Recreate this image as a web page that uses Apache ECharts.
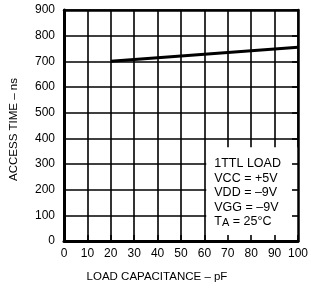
<!DOCTYPE html>
<html>
<head>
<meta charset="utf-8">
<script src="https://cdn.jsdelivr.net/npm/echarts@6/dist/echarts.min.js"></script>
<style>
  html, body { margin: 0; padding: 0; background: #fff; }
  #chart { width: 311px; height: 288px; }
</style>
</head>
<body>
<div id="chart"></div>
<script>
// load capacitance (pF) vs access time (ns)
const capacitance = [20, 100];
const accessTime = [700, 755];
const conditions = ['1TTL LOAD', 'VCC = +5V', 'VDD = \u20139V', 'VGG = \u20139V'];

const FONT = 'Liberation Sans, Arial, sans-serif';
const chart = echarts.init(document.getElementById('chart'));

const xBase = { type: 'value', min: 0, max: 100, interval: 10 };
const yBase = { type: 'value', min: 0, max: 900, interval: 100 };
const off = { show: false };

chart.setOption({
  animation: false,
  grid: { left: 62, right: 13, top: 10, bottom: 44 },
  xAxis: [
    // grid lines
    Object.assign({}, xBase, {
      z: 0, axisLine: off, axisTick: off, axisLabel: off,
      splitLine: { show: true, lineStyle: { color: '#000', width: 1.6 } }
    }),
    // bottom axis with labels and inside ticks
    Object.assign({}, xBase, {
      z: 10, position: 'bottom',
      axisLine: { show: true, lineStyle: { color: '#000', width: 3 } },
      axisTick: { show: true, inside: true, length: 6, lineStyle: { color: '#000', width: 1.6 } },
      axisLabel: { color: '#000', fontFamily: FONT, fontSize: 12, margin: 7 },
      splitLine: off,
      name: 'LOAD CAPACITANCE \u2013 pF', nameLocation: 'middle', nameGap: 30,
      nameTextStyle: { color: '#000', fontFamily: FONT, fontSize: 11.5, padding: [0, 48, 0, 0] }
    }),
    // top frame
    Object.assign({}, xBase, {
      z: 10, position: 'top',
      axisLine: { show: true, onZero: false, lineStyle: { color: '#000', width: 2.5 } },
      axisTick: off, axisLabel: off, splitLine: off
    })
  ],
  yAxis: [
    Object.assign({}, yBase, {
      z: 0, axisLine: off, axisTick: off, axisLabel: off,
      splitLine: { show: true, lineStyle: { color: '#000', width: 1.6 } }
    }),
    Object.assign({}, yBase, {
      z: 10, position: 'left',
      axisLine: { show: true, onZero: false, lineStyle: { color: '#000', width: 3 } },
      axisTick: off,
      axisLabel: { color: '#000', fontFamily: FONT, fontSize: 12, margin: 9 },
      splitLine: off,
      name: 'ACCESS TIME \u2013 ns', nameLocation: 'middle', nameGap: 44, nameRotate: 90,
      nameTextStyle: { color: '#000', fontFamily: FONT, fontSize: 11.5, padding: [0, 8, 0, 0] }
    }),
    Object.assign({}, yBase, {
      z: 10, position: 'right',
      axisLine: { show: true, onZero: false, lineStyle: { color: '#000', width: 2.5 } },
      axisTick: { show: true, inside: true, length: 6, lineStyle: { color: '#000', width: 1.6 } },
      axisLabel: off, splitLine: off
    })
  ],
  series: [{
    type: 'line',
    xAxisIndex: 0,
    yAxisIndex: 0,
    data: capacitance.map((c, i) => [c, accessTime[i]]),
    symbol: 'none',
    lineStyle: { color: '#000', width: 3 },
    markArea: {
      silent: true,
      itemStyle: { color: '#fff', opacity: 1 },
      label: {
        show: true, position: 'insideTopLeft', offset: [3, 4],
        color: '#000', fontFamily: FONT, fontSize: 12.5, lineHeight: 14.5,
        formatter: conditions.join('\n') + '\nT{s|A} = 25\u00b0C',
        rich: {
          s: { fontFamily: FONT, fontSize: 11, verticalAlign: 'bottom', padding: [4, 0, 0, 0] }
        }
      },
      data: [[{ coord: [60.8, 0] }, { coord: [100, 365] }]]
    }
  }]
});
</script>
</body>
</html>
